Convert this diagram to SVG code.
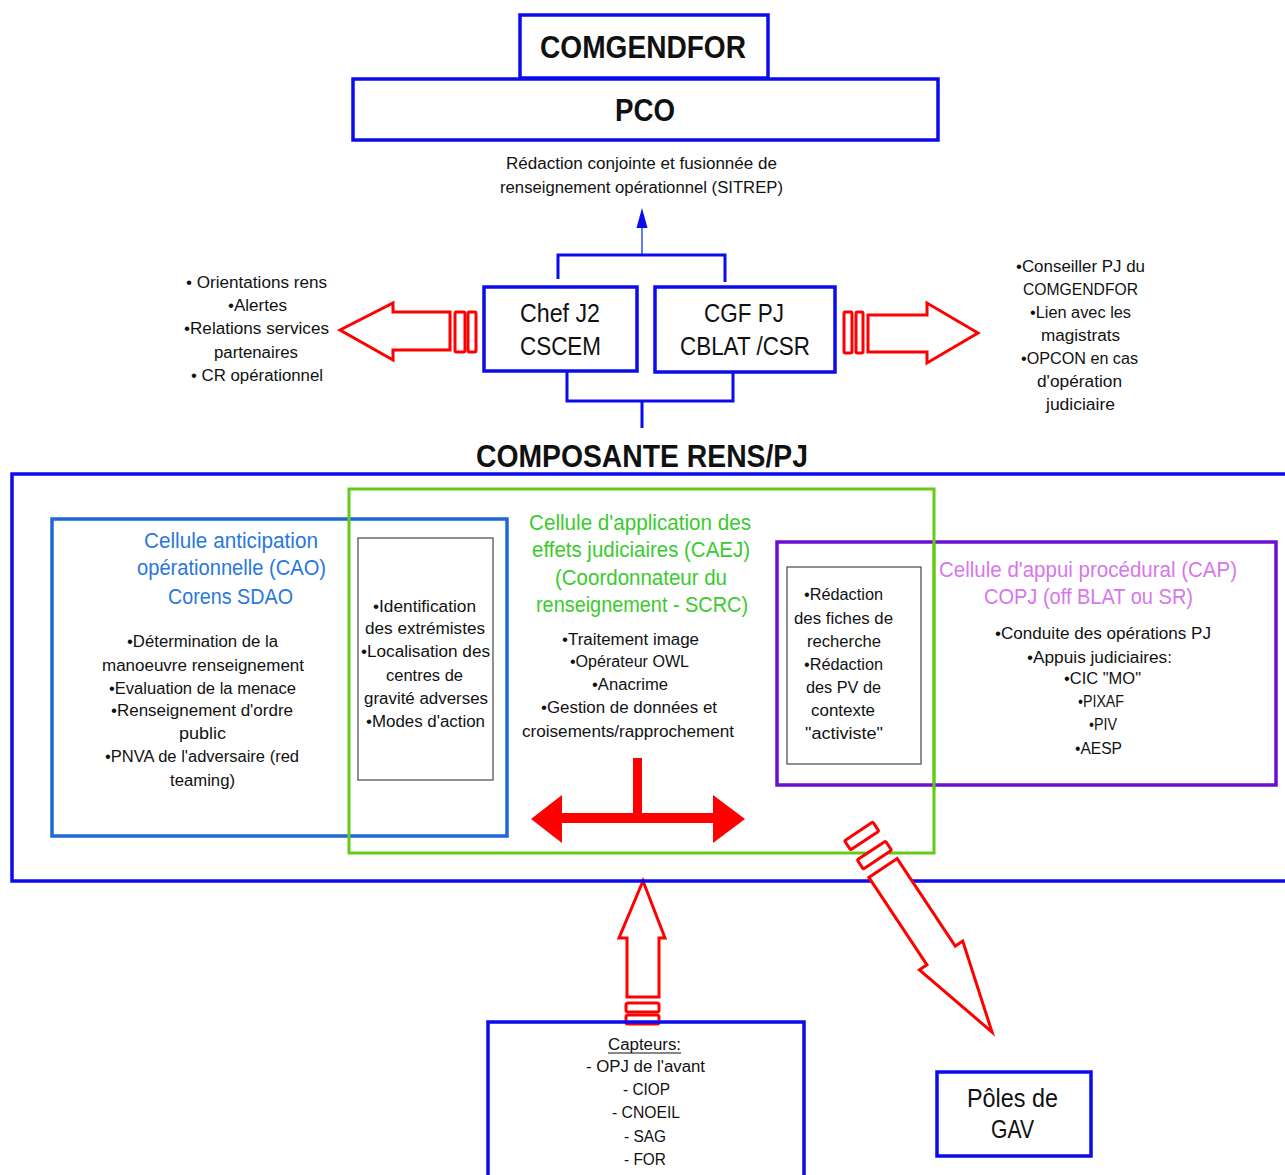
<svg xmlns="http://www.w3.org/2000/svg" width="1285" height="1175" viewBox="0 0 1285 1175">
  <style>
    text { font-family: "Liberation Sans", Arial, sans-serif; text-anchor: middle; fill: #111; }
    .b16 { font-size: 16px; }
    .h22 { font-size: 22px; }
    .n25 { font-size: 25px; }
    .big { font-size: 32px; font-weight: bold; }
    .blue { fill: none; stroke: #0b0bf0; stroke-width: 3.5; }
    .wire { fill: none; stroke: #0b0bf0; stroke-width: 3; }
    .red { fill: #fff; stroke: #ff0000; stroke-width: 3; stroke-linejoin: miter; }
    .inner { fill: #fff; stroke: #555; stroke-width: 1.3; }
    .tCAO { fill: #2a78dc; }
    .tCAEJ { fill: #3acb2e; }
    .tCAP { fill: #d677ec; }
  </style>
  <rect width="1285" height="1175" fill="#fff"/>

  <!-- connectors -->
  <g id="connectors">
    <line x1="642" y1="255" x2="642" y2="226" stroke="#3b57ff" stroke-width="1.6"/>
    <polygon points="642,208 636.5,228 647.5,228" fill="#0b0bf0"/>
    <path class="wire" d="M558,279 V255 H725 V282"/>
    <path class="wire" d="M567,372 V401 H733 V373"/>
    <line class="wire" x1="642" y1="401" x2="642" y2="428"/>

    <!-- left block arrow -->
    <g id="arrow-left">
      <path class="red" d="M340,330 L393,303 L393,312 L450,312 L450,350 L393,350 L393,360 Z"/>
      <rect class="red" x="455" y="312" width="10" height="40" rx="1.5"/>
      <rect class="red" x="468" y="312" width="8" height="40" rx="1.5"/>
    </g>
    <!-- right block arrow -->
    <g id="arrow-right">
      <path class="red" d="M978,333 L927,303 L927,315 L868,315 L868,352 L927,352 L927,363 Z"/>
      <rect class="red" x="844" y="312" width="8" height="41" rx="1.5"/>
      <rect class="red" x="856" y="312" width="7" height="41" rx="1.5"/>
    </g>
    <!-- capteurs to composante -->
    <g id="arrow-up">
      <path class="red" d="M643,881 L665,938 L659,938 L659,997 L627,997 L627,938 L619,938 Z"/>
      <rect class="red" x="626" y="1003" width="33" height="9" rx="2"/>
      <rect class="red" x="626" y="1015" width="33" height="9" rx="2"/>
    </g>
  </g>

  <!-- COMGENDFOR / PCO -->
  <g id="comgendfor">
    <rect class="blue" x="520" y="15" width="248" height="63"/>
    <text class="big" x="643" y="58" textLength="206" lengthAdjust="spacingAndGlyphs">COMGENDFOR</text>
  </g>
  <g id="pco">
    <rect class="blue" x="353" y="79" width="585" height="61"/>
    <text class="big" x="645" y="121" textLength="60" lengthAdjust="spacingAndGlyphs">PCO</text>
  </g>
  <g id="sitrep">
    <text class="b16" x="641.5" y="169" textLength="271" lengthAdjust="spacingAndGlyphs">Rédaction conjointe et fusionnée de</text>
    <text class="b16" x="641.5" y="193" textLength="283" lengthAdjust="spacingAndGlyphs">renseignement opérationnel (SITREP)</text>
  </g>

  <!-- J2 and CGF PJ -->
  <g id="chef-j2">
    <rect class="blue" x="484" y="287" width="153" height="84"/>
    <text class="n25" x="560" y="322" textLength="80" lengthAdjust="spacingAndGlyphs">Chef J2</text>
    <text class="n25" x="560.5" y="355" textLength="81" lengthAdjust="spacingAndGlyphs">CSCEM</text>
  </g>
  <g id="cgf-pj">
    <rect class="blue" x="655" y="287" width="180" height="85"/>
    <text class="n25" x="744" y="322" textLength="80" lengthAdjust="spacingAndGlyphs">CGF PJ</text>
    <text class="n25" x="745" y="355" textLength="130" lengthAdjust="spacingAndGlyphs">CBLAT /CSR</text>
  </g>

  <g id="j2-tasks">
    <text class="b16" x="256.5" y="288" textLength="141" lengthAdjust="spacingAndGlyphs">• Orientations rens</text>
    <text class="b16" x="257.5" y="311" textLength="59" lengthAdjust="spacingAndGlyphs">•Alertes</text>
    <text class="b16" x="256.5" y="334" textLength="145" lengthAdjust="spacingAndGlyphs">•Relations services</text>
    <text class="b16" x="256" y="358" textLength="84" lengthAdjust="spacingAndGlyphs">partenaires</text>
    <text class="b16" x="257" y="381" textLength="132" lengthAdjust="spacingAndGlyphs">• CR opérationnel</text>
  </g>
  <g id="cgf-tasks">
    <text class="b16" x="1080.5" y="272" textLength="129" lengthAdjust="spacingAndGlyphs">•Conseiller PJ du</text>
    <text class="b16" x="1080.5" y="295" textLength="115" lengthAdjust="spacingAndGlyphs">COMGENDFOR</text>
    <text class="b16" x="1080.5" y="318" textLength="101" lengthAdjust="spacingAndGlyphs">•Lien avec les</text>
    <text class="b16" x="1080.5" y="341" textLength="79" lengthAdjust="spacingAndGlyphs">magistrats</text>
    <text class="b16" x="1079.5" y="364" textLength="117" lengthAdjust="spacingAndGlyphs">•OPCON en cas</text>
    <text class="b16" x="1079.5" y="387" textLength="85" lengthAdjust="spacingAndGlyphs">d'opération</text>
    <text class="b16" x="1080.5" y="410" textLength="69" lengthAdjust="spacingAndGlyphs">judiciaire</text>
  </g>

  <!-- Composante RENS/PJ -->
  <g id="composante">
    <text class="big" x="642" y="467" textLength="332" lengthAdjust="spacingAndGlyphs">COMPOSANTE RENS/PJ</text>
    <rect class="blue" x="12" y="474" width="1280" height="407"/>
  </g>

  <g id="cao">
    <rect x="52" y="519" width="455" height="317" fill="none" stroke="#1f68d6" stroke-width="3.5"/>
    <text class="h22 tCAO" x="231" y="548" textLength="174" lengthAdjust="spacingAndGlyphs">Cellule anticipation</text>
    <text class="h22 tCAO" x="231.5" y="575" textLength="189" lengthAdjust="spacingAndGlyphs">opérationnelle (CAO)</text>
    <text class="h22 tCAO" x="230.5" y="604" textLength="125" lengthAdjust="spacingAndGlyphs">Corens SDAO</text>
    <text class="b16" x="202.5" y="647" textLength="151" lengthAdjust="spacingAndGlyphs">•Détermination de la</text>
    <text class="b16" x="203" y="671" textLength="202" lengthAdjust="spacingAndGlyphs">manoeuvre renseignement</text>
    <text class="b16" x="202.5" y="694" textLength="187" lengthAdjust="spacingAndGlyphs">•Evaluation de la menace</text>
    <text class="b16" x="202" y="716" textLength="182" lengthAdjust="spacingAndGlyphs">•Renseignement d'ordre</text>
    <text class="b16" x="202.5" y="739" textLength="47" lengthAdjust="spacingAndGlyphs">public</text>
    <text class="b16" x="202" y="762" textLength="194" lengthAdjust="spacingAndGlyphs">•PNVA de l'adversaire (red</text>
    <text class="b16" x="202.5" y="786" textLength="65" lengthAdjust="spacingAndGlyphs">teaming)</text>
  </g>

  <g id="cao-caej-shared">
    <rect class="inner" x="358" y="538" width="135" height="242"/>
    <text class="b16" x="424.5" y="612" textLength="103" lengthAdjust="spacingAndGlyphs">•Identification</text>
    <text class="b16" x="425" y="634" textLength="120" lengthAdjust="spacingAndGlyphs">des extrémistes</text>
    <text class="b16" x="425.5" y="657" textLength="129" lengthAdjust="spacingAndGlyphs">•Localisation des</text>
    <text class="b16" x="424.5" y="681" textLength="77" lengthAdjust="spacingAndGlyphs">centres de</text>
    <text class="b16" x="426" y="704" textLength="124" lengthAdjust="spacingAndGlyphs">gravité adverses</text>
    <text class="b16" x="425.5" y="727" textLength="119" lengthAdjust="spacingAndGlyphs">•Modes d'action</text>
  </g>

  <g id="caej">
    <rect x="349" y="489" width="585" height="364" fill="none" stroke="#62cc16" stroke-width="3"/>
    <text class="h22 tCAEJ" x="640" y="530" textLength="222" lengthAdjust="spacingAndGlyphs">Cellule d'application des</text>
    <text class="h22 tCAEJ" x="641" y="557" textLength="218" lengthAdjust="spacingAndGlyphs">effets judiciaires (CAEJ)</text>
    <text class="h22 tCAEJ" x="641" y="585" textLength="172" lengthAdjust="spacingAndGlyphs">(Coordonnateur du</text>
    <text class="h22 tCAEJ" x="642" y="612" textLength="212" lengthAdjust="spacingAndGlyphs">renseignement - SCRC)</text>
    <text class="b16" x="630.5" y="645" textLength="137" lengthAdjust="spacingAndGlyphs">•Traitement image</text>
    <text class="b16" x="629.5" y="667" textLength="119" lengthAdjust="spacingAndGlyphs">•Opérateur OWL</text>
    <text class="b16" x="630" y="690" textLength="76" lengthAdjust="spacingAndGlyphs">•Anacrime</text>
    <text class="b16" x="629" y="713" textLength="176" lengthAdjust="spacingAndGlyphs">•Gestion de données et</text>
    <text class="b16" x="628" y="737" textLength="212" lengthAdjust="spacingAndGlyphs">croisements/rapprochement</text>
    <!-- two-way distribution arrow -->
    <g fill="#ff0000">
      <rect x="633" y="758" width="9" height="60"/>
      <rect x="558" y="813" width="157" height="10"/>
      <polygon points="531,819 562,795 562,843"/>
      <polygon points="745,819 713,795 713,843"/>
    </g>
  </g>

  <g id="cap">
    <rect x="777" y="542" width="499" height="243" fill="none" stroke="#6a0fd2" stroke-width="3.5"/>
    <text class="h22 tCAP" x="1088" y="577" textLength="298" lengthAdjust="spacingAndGlyphs">Cellule d'appui procédural (CAP)</text>
    <text class="h22 tCAP" x="1088.5" y="604" textLength="209" lengthAdjust="spacingAndGlyphs">COPJ (off BLAT ou SR)</text>
    <text class="b16" x="1103" y="639" textLength="216" lengthAdjust="spacingAndGlyphs">•Conduite des opérations PJ</text>
    <text class="b16" x="1099.5" y="663" textLength="145" lengthAdjust="spacingAndGlyphs">•Appuis judiciaires:</text>
    <text class="b16" x="1102.5" y="684" textLength="77" lengthAdjust="spacingAndGlyphs">•CIC "MO"</text>
    <text class="b16" x="1101" y="707" textLength="46" lengthAdjust="spacingAndGlyphs">•PIXAF</text>
    <text class="b16" x="1103" y="730" textLength="28" lengthAdjust="spacingAndGlyphs">•PIV</text>
    <text class="b16" x="1098.5" y="754" textLength="47" lengthAdjust="spacingAndGlyphs">•AESP</text>
  </g>

  <g id="caej-cap-shared">
    <rect class="inner" x="787" y="567" width="134" height="197"/>
    <text class="b16" x="843.5" y="600" textLength="79" lengthAdjust="spacingAndGlyphs">•Rédaction</text>
    <text class="b16" x="843.5" y="624" textLength="99" lengthAdjust="spacingAndGlyphs">des fiches de</text>
    <text class="b16" x="844" y="647" textLength="74" lengthAdjust="spacingAndGlyphs">recherche</text>
    <text class="b16" x="843.5" y="670" textLength="79" lengthAdjust="spacingAndGlyphs">•Rédaction</text>
    <text class="b16" x="843.5" y="693" textLength="75" lengthAdjust="spacingAndGlyphs">des PV de</text>
    <text class="b16" x="843" y="716" textLength="64" lengthAdjust="spacingAndGlyphs">contexte</text>
    <text class="b16" x="844" y="739" textLength="78" lengthAdjust="spacingAndGlyphs">"activiste"</text>
  </g>
  <!-- green frame edge drawn over the shared box -->
  <line x1="934" y1="540" x2="934" y2="790" stroke="#62cc16" stroke-width="3"/>

  <!-- arrow toward the GAV poles -->
  <g id="arrow-gav" transform="translate(883,868) rotate(56.4)">
    <path class="red" d="M0,-17 L105,-17 L105,-26 L197,0 L105,26 L105,17 L0,17 Z"/>
    <rect class="red" x="-21" y="-17" width="11" height="34" rx="1.5"/>
    <rect class="red" x="-44" y="-17" width="11" height="34" rx="1.5"/>
  </g>

  <g id="capteurs">
    <rect class="blue" x="488" y="1022" width="316" height="170"/>
    <text class="b16" x="644.5" y="1050" textLength="73" lengthAdjust="spacingAndGlyphs">Capteurs:</text>
    <line x1="608" y1="1053" x2="681" y2="1053" stroke="#111" stroke-width="1"/>
    <text class="b16" x="645.5" y="1072" textLength="119" lengthAdjust="spacingAndGlyphs">- OPJ de l'avant</text>
    <text class="b16" x="646.5" y="1095" textLength="47" lengthAdjust="spacingAndGlyphs">- CIOP</text>
    <text class="b16" x="646" y="1118" textLength="68" lengthAdjust="spacingAndGlyphs">- CNOEIL</text>
    <text class="b16" x="645" y="1142" textLength="42" lengthAdjust="spacingAndGlyphs">- SAG</text>
    <text class="b16" x="645" y="1165" textLength="42" lengthAdjust="spacingAndGlyphs">- FOR</text>
  </g>

  <g id="poles-gav">
    <rect class="blue" x="937" y="1072" width="154" height="84"/>
    <text class="n25" x="1012.5" y="1107" textLength="91" lengthAdjust="spacingAndGlyphs">Pôles de</text>
    <text class="n25" x="1012.5" y="1138" textLength="43" lengthAdjust="spacingAndGlyphs">GAV</text>
  </g>
</svg>
